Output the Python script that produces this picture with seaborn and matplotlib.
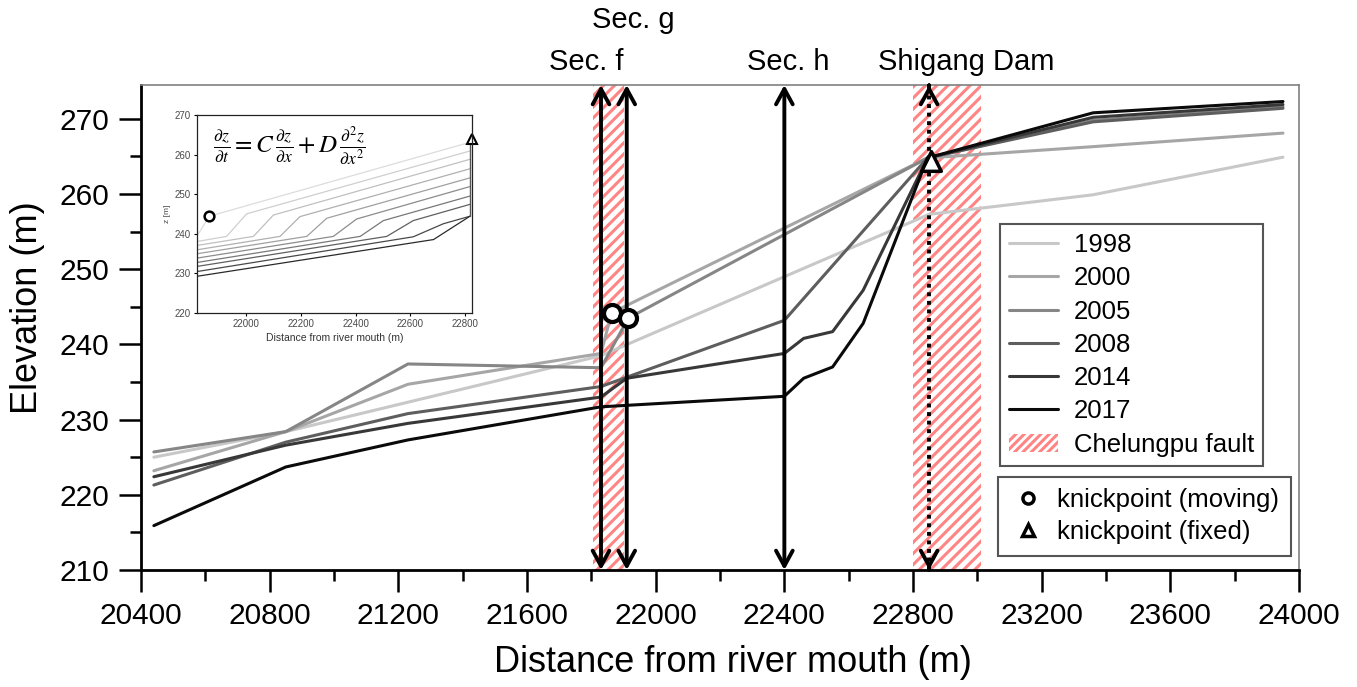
import matplotlib
matplotlib.use('Agg')
import matplotlib.pyplot as plt
import matplotlib.transforms as mtransforms
from matplotlib.lines import Line2D
from matplotlib.patches import Patch
import numpy as np
import pandas as pd
import seaborn as sns

# ---- data ----
years = ['1998', '2000', '2005', '2008', '2014', '2017']

x_1998 = [20440, 20850, 21830, 22850, 23360, 23950]
y_1998 = [225.0, 228.4, 238.5, 257.3, 259.9, 264.9]

x_2000 = [20440, 20850, 21230, 21830, 21863, 22845, 23360, 23950]
y_2000 = [223.2, 228.4, 234.7, 238.8, 244.2, 264.8, 266.3, 268.1]

x_2005 = [20440, 20850, 21230, 21830, 21915, 22845, 23360, 23950]
y_2005 = [225.7, 228.4, 237.4, 236.9, 243.5, 264.8, 269.8, 271.6]

x_2008 = [20440, 20850, 21230, 21830, 22400, 22845, 23360, 23950]
y_2008 = [221.3, 227.0, 230.8, 234.4, 243.2, 264.8, 269.6, 271.4]

x_2014 = [20440, 20850, 21230, 21830, 21910, 22400, 22460, 22550, 22645, 22845, 23360, 23950]
y_2014 = [222.4, 226.6, 229.5, 233.0, 235.5, 238.8, 240.8, 241.7, 247.2, 264.8, 270.2, 271.9]

x_2017 = [20440, 20850, 21230, 21830, 22400, 22460, 22550, 22645, 22845, 23360, 23950]
y_2017 = [215.9, 223.7, 227.3, 231.7, 233.1, 235.5, 237.0, 242.8, 264.8, 270.8, 272.3]

sections = ['Sec. f', 'Sec. g', 'Sec. h']
section_x = [21830, 21910, 22400]
dam_x = 22850

fault_zones = [(21805, 21900), (22800, 23010)]

knick_moving_x = [21863, 21915]
knick_moving_y = [244.2, 243.5]
knick_fixed_x = [22855]
knick_fixed_y = [264.4]

# inset (model run)
inset_x = [
    [21820, 21866, 22818],
    [21820, 21929, 22002, 22818],
    [21820, 22027, 22100, 22818],
    [21820, 22124, 22197, 22818],
    [21820, 22222, 22295, 22818],
    [21820, 22319, 22404, 22818],
    [21820, 22417, 22502, 22818],
    [21820, 22514, 22611, 22818],
    [21820, 22611, 22721, 22818],
    [21820, 22685, 22818],
]
inset_y = [
    [239.3, 244.4, 263.1],
    [238.0, 239.3, 245.0, 260.9],
    [237.0, 239.3, 244.7, 258.8],
    [235.9, 239.3, 244.3, 256.4],
    [234.9, 239.3, 243.9, 254.1],
    [233.8, 239.3, 243.7, 251.9],
    [232.7, 239.3, 243.3, 249.5],
    [231.7, 239.3, 243.3, 247.4],
    [230.4, 239.2, 242.5, 244.4],
    [229.2, 238.5, 244.4],
]
inset_wall_x = [22818, 22818]
inset_wall_y = [263.1, 244.4]
inset_knick_moving = (21866, 244.4)
inset_knick_fixed = (22825, 263.9)

# ---- styling ----
sns.set_style('ticks')
plt.rcParams['font.family'] = ['Liberation Sans', 'DejaVu Sans']
plt.rcParams['hatch.linewidth'] = 2.2
plt.rcParams['mathtext.fontset'] = 'stix'
for key in ['text.color', 'axes.labelcolor', 'xtick.color', 'ytick.color']:
    plt.rcParams[key] = 'black'

colors = ['#c8c8c8', '#a6a6a6', '#868686', '#5e5e5e', '#383838', '#0a0a0a']
palette = dict(zip(years, colors))
fault_color = '#ff8585'

series_x = [x_1998, x_2000, x_2005, x_2008, x_2014, x_2017]
series_y = [y_1998, y_2000, y_2005, y_2008, y_2014, y_2017]
df = pd.concat([pd.DataFrame({'dist': sx, 'elev': sy, 'year': yr})
                for yr, sx, sy in zip(years, series_x, series_y)], ignore_index=True)

fig = plt.figure(figsize=(13.57, 6.87), dpi=100)
ax = fig.add_axes([0.1039, 0.1703, 0.8534, 0.706])

for x0, x1 in fault_zones:
    ax.axvspan(x0, x1, facecolor='white', edgecolor=fault_color, hatch='///', lw=0, zorder=1)

sns.lineplot(data=df, x='dist', y='elev', hue='year', palette=palette, estimator=None,
             sort=False, lw=2.2, legend=False, ax=ax, zorder=3)

ymin, ymax = 210, 274.5
head = '->, head_length=0.55, head_width=0.3'
arrow_kw = dict(arrowstyle='<->, head_length=0.55, head_width=0.3', lw=2.8, color='black',
                shrinkA=0, shrinkB=0, mutation_scale=20)
for sx in section_x:
    ax.annotate('', xy=(sx, ymax), xytext=(sx, ymin), arrowprops=arrow_kw, zorder=4,
                annotation_clip=False)
# dam: dotted shaft with arrow heads
ax.plot([dam_x, dam_x], [ymin, ymax], color='black', lw=2.8, ls=(0, (1, 1.2)), zorder=4)
for tip, tail in [(ymax, ymax - 0.1), (ymin, ymin + 0.1)]:
    ax.annotate('', xy=(dam_x, tip), xytext=(dam_x, tail),
                arrowprops=dict(arrowstyle=head, lw=2.8, color='black', shrinkA=0, shrinkB=0,
                                mutation_scale=20), zorder=4)

sns.scatterplot(x=knick_moving_x, y=knick_moving_y, marker='o', s=150, facecolor='white',
                edgecolor='black', linewidth=3, ax=ax, zorder=5)
sns.scatterplot(x=knick_fixed_x, y=knick_fixed_y, marker='^', s=200, facecolor='white',
                edgecolor='black', linewidth=2.5, ax=ax, zorder=5)

# labels above the plot
trans = mtransforms.blended_transform_factory(ax.transData, ax.transAxes)
ax.text(21783, 1.047, 'Sec. f', transform=trans, ha='center', va='center', fontsize=21)
ax.text(21929, 1.134, 'Sec. g', transform=trans, ha='center', va='center', fontsize=21)
ax.text(22411, 1.047, 'Sec. h', transform=trans, ha='center', va='center', fontsize=21)
ax.text(22965, 1.047, 'Shigang Dam', transform=trans, ha='center', va='center', fontsize=21)

ax.set_xlim(20400, 24000)
ax.set_ylim(ymin, ymax)
ax.set_xticks(np.arange(20400, 24001, 400))
ax.set_xticks(np.arange(20400, 24001, 200), minor=True)
ax.set_yticks(np.arange(210, 271, 10))
ax.set_yticks(np.arange(210, 271, 5), minor=True)
ax.tick_params(which='major', direction='out', length=16, width=1.8, labelsize=21.5, pad=7)
ax.tick_params(which='minor', direction='out', length=8, width=1.8)
ax.set_xlabel('Distance from river mouth (m)', fontsize=26)
ax.set_ylabel('Elevation (m)', fontsize=26)
ax.xaxis.set_label_coords(0.511, -0.155)
ax.yaxis.set_label_coords(-0.083, 0.54)
for side in ['left', 'bottom']:
    ax.spines[side].set_linewidth(2.0)
    ax.spines[side].set_color('black')
for side in ['top', 'right']:
    ax.spines[side].set_visible(True)
    ax.spines[side].set_linewidth(1.2)
    ax.spines[side].set_color('#808080')

# legends
h1 = [Line2D([], [], color=c, lw=2.2) for c in colors]
h1.append(Patch(facecolor='white', edgecolor=fault_color, hatch='////', lw=0))
leg1 = ax.legend(h1, years + ['Chelungpu fault'], loc='upper left', bbox_to_anchor=(0.742, 0.713),
                 fontsize=18.5, frameon=True, fancybox=False, edgecolor='#555555', framealpha=1,
                 handlelength=1.9, labelspacing=0.36, borderpad=0.35, handletextpad=0.6,
                 borderaxespad=0)
leg1.get_frame().set_linewidth(1.5)
ax.add_artist(leg1)

h2 = [Line2D([], [], marker='o', ls='', mfc='white', mec='black', mew=2.5, ms=8),
      Line2D([], [], marker='^', ls='', mfc='white', mec='black', mew=2.5, ms=9)]
leg2 = ax.legend(h2, ['knickpoint (moving)', 'knickpoint (fixed)'], loc='upper left',
                 bbox_to_anchor=(0.740, 0.192), fontsize=18.5, frameon=True, fancybox=False,
                 edgecolor='#555555', framealpha=1, labelspacing=0.3, borderpad=0.45,
                 handlelength=1.4, handletextpad=0.45, borderaxespad=0)
leg2.get_frame().set_linewidth(1.5)

# inset
ax_in = fig.add_axes([0.145, 0.5448, 0.2027, 0.2878])
ax_in.set_facecolor('white')
inset_colors = ['#dcdcdc', '#cfcfcf', '#c0c0c0', '#b0b0b0', '#a0a0a0', '#8c8c8c',
                '#787878', '#606060', '#484848', '#2a2a2a']
df_in = pd.concat([pd.DataFrame({'dist': cx, 'elev': cy, 'curve': i})
                   for i, (cx, cy) in enumerate(zip(inset_x, inset_y))], ignore_index=True)
sns.lineplot(data=df_in, x='dist', y='elev', hue='curve', palette=inset_colors, estimator=None,
             sort=False, lw=0.9, legend=False, ax=ax_in)
ax_in.plot(inset_wall_x, inset_wall_y, color='#555555', lw=1.0)
ax_in.plot(*inset_knick_moving, marker='o', ms=7, mfc='white', mec='black', mew=1.8)
ax_in.plot(*inset_knick_fixed, marker='^', ms=7, mfc='white', mec='black', mew=1.5, clip_on=False)
ax_in.text(0.06, 0.95, r'$\frac{\partial z}{\partial t} = C\,\frac{\partial z}{\partial x} + D\,\frac{\partial^2 z}{\partial x^2}$',
           transform=ax_in.transAxes, ha='left', va='top', fontsize=18)
ax_in.set_xlim(21820, 22825)
ax_in.set_ylim(220, 270)
ax_in.set_xticks(np.arange(22000, 22801, 200))
ax_in.set_yticks(np.arange(220, 271, 10))
ax_in.tick_params(direction='out', length=2.5, width=0.8, labelsize=7, labelcolor='#4a4a4a', pad=2)
ax_in.set_xlabel('Distance from river mouth (m)', fontsize=7.5, color='#333333', labelpad=3)
ax_in.set_ylabel('z [m]', fontsize=6, color='#4a4a4a', labelpad=2)
for sp in ax_in.spines.values():
    sp.set_visible(True)
    sp.set_linewidth(0.9)
    sp.set_color('#222222')

fig.savefig('out.png', dpi=100)
